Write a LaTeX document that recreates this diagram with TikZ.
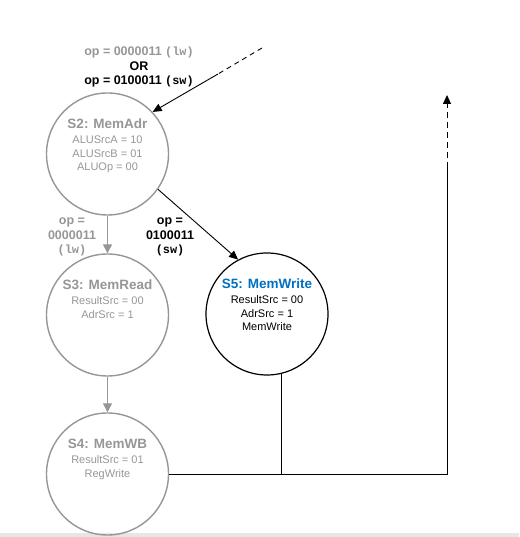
\documentclass[tikz,border=0pt]{standalone}
\usepackage{fontspec}
\setmainfont{Liberation Sans}
\setmonofont{Liberation Mono}[BoldFont={Liberation Mono Bold}, Scale=0.95]
\usetikzlibrary{arrows.meta, positioning, calc}
\definecolor{fsmgray}{RGB}{150,150,150}
\definecolor{fsmblue}{RGB}{0,112,192}
\definecolor{stripgray}{RGB}{230,230,230}
\newcommand{\sttitle}[1]{{\fontsize{13.5}{13.5}\selectfont\bfseries #1}}

\begin{document}
\begin{tikzpicture}[x=1pt, y=1pt,
        state/.style={circle, draw=fsmgray, line width=1.4pt, minimum size=122pt, inner sep=0pt},
        stxt/.style={align=center, inner sep=0pt, text=fsmgray, font=\fontsize{11}{13.5}\selectfont},
        cond/.style={align=center, inner sep=0pt, font=\fontsize{12.5}{14.5}\selectfont\bfseries},
        arrow/.style={-{Triangle[length=9pt, width=8pt]}, line width=0.9pt},
        garrow/.style={-{Triangle[length=9pt, width=9pt]}, line width=1.4pt, draw=fsmgray, fill=fsmgray}
    ]
        \useasboundingbox (0,0) rectangle (519,537);
        \fill[stripgray] (0,0) rectangle (519,4);

        \node[state] (s2) at (107.5,383) {};
        \node[state] (s3) at (107.5,222) {};
        \node[state] (s4) at (107.5,63) {};
        \node[state, draw=black, line width=1.2pt] (s5) at (267,223) {};

        \node[stxt, anchor=north] (s2t) at ([yshift=35]s2.center)
            {\sttitle{S2: MemAdr}\\[1.5pt] ALUSrcA = 10\\ ALUSrcB = 01\\ ALUOp = 00};
        \node[stxt, anchor=north] (s3t) at ([yshift=35]s3.center)
            {\sttitle{S3: MemRead}\\[1.5pt] ResultSrc = 00\\ AdrSrc = 1};
        \node[stxt, anchor=north] (s4t) at ([yshift=35]s4.center)
            {\sttitle{S4: MemWB}\\[1.5pt] ResultSrc = 01\\ RegWrite};
        \node[stxt, anchor=north, text=black] (s5t) at ([yshift=35]s5.center)
            {\textcolor{fsmblue}{\sttitle{S5: MemWrite}}\\[1.5pt] ResultSrc = 00\\ AdrSrc = 1\\ MemWrite};

        \node[cond] (c2) at (139,470)
            {\textcolor{fsmgray}{op = 0000011 \texttt{(lw)}}\\ OR\\ op = 0100011 \texttt{(sw)}};
        \node[cond, text=fsmgray] (c3) at (72,300) {op =\\ 0000011\\ \texttt{(lw)}};
        \node[cond] (c5) at (170,300) {op =\\ 0100011\\ \texttt{(sw)}};

        % entry from S1
        \coordinate (in) at (262,489);
        \coordinate (inmid) at (218,463);
        \draw[line width=0.9pt, dash pattern=on 5pt off 4pt] (in) -- (inmid);
        \draw[arrow] (inmid) -- (s2.43);

        \draw[garrow] (s2) -- (s3);
        \draw[garrow] (s3) -- (s4);
        \draw[arrow] (s2.325) -- (s5.118);

        % back to S0
        \coordinate (ret) at (447,63);
        \coordinate (retup) at (447,369);
        \coordinate (retend) at (447,442);
        \draw[line width=0.9pt] (s5.284) -- (s5.284 |- s4.east);
        \draw[line width=0.9pt] (s4.east) -- (ret) -- (retup);
        \draw[arrow, dash pattern=on 6pt off 4pt] (retup) -- (retend);
    \end{tikzpicture}
\end{document}
